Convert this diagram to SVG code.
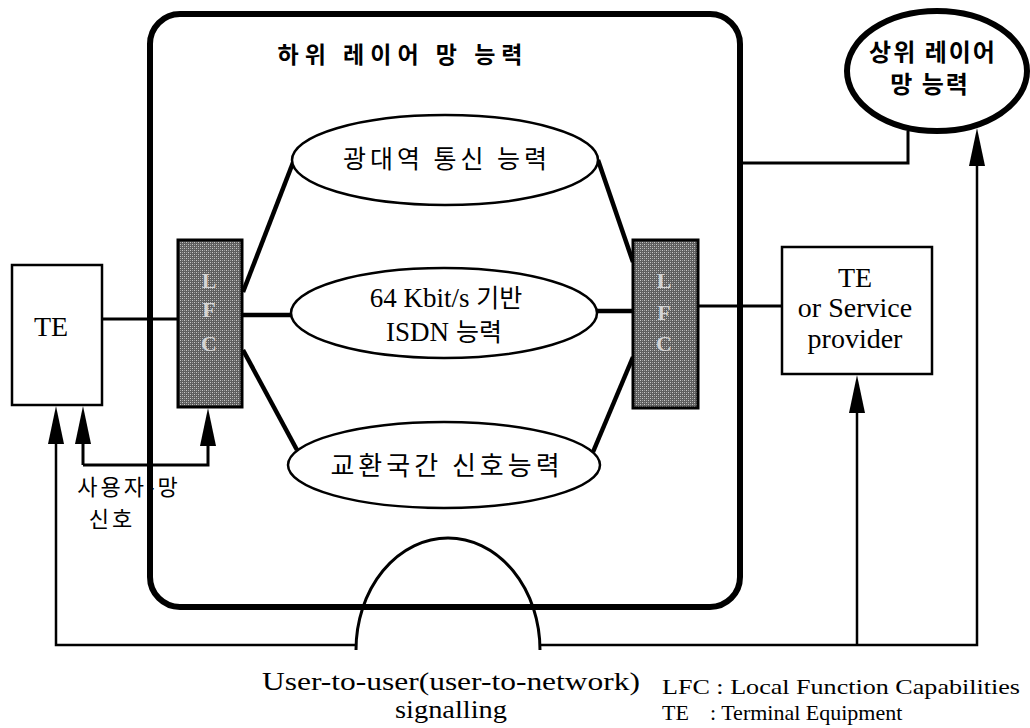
<svg xmlns="http://www.w3.org/2000/svg" width="1030" height="728" viewBox="0 0 1030 728">
<style>
  .serif { font-family: "Liberation Serif", "Times New Roman", serif; fill: #000; }
  .kr { font-family: "Noto Sans CJK KR", sans-serif; fill: #000; }
  .krb { font-family: "Noto Sans CJK KR", sans-serif; font-weight: bold; fill: #000; }
  .box { fill: #fff; stroke: #000; stroke-width: 2.5; }
  .ell { fill: #fff; stroke: #000; stroke-width: 2.5; }
  .lfc { fill: url(#dith); stroke: #000; stroke-width: 3; }
  .lfct { font-family: "Liberation Serif", serif; font-weight: bold; font-size: 22px; fill: #d4d4d4; text-anchor: middle; }
  .thick { fill: none; stroke: #000; stroke-width: 4.5; }
  .mid { fill: none; stroke: #000; stroke-width: 3; }
  .thin { fill: none; stroke: #000; stroke-width: 2.5; }
</style>
<defs>
  <pattern id="dith" width="4" height="4" patternUnits="userSpaceOnUse">
    <rect width="4" height="4" fill="#5e5e5e"/>
    <rect x="0" y="0" width="1" height="1" fill="#c8c8c8"/>
    <rect x="2" y="2" width="1" height="1" fill="#c8c8c8"/>
    <rect x="2" y="0" width="1" height="1" fill="#9a9a9a"/>
    <rect x="0" y="2" width="1" height="1" fill="#9a9a9a"/>
  </pattern>
  <marker id="ah" viewBox="0 0 38 16" refX="28" refY="8" markerWidth="38" markerHeight="16" markerUnits="userSpaceOnUse" orient="auto">
    <path d="M0,0 L38,8 L0,16 z" fill="#000"/>
  </marker>
</defs>
<rect width="1030" height="728" fill="#fff"/>

<g id="user-network-signalling-label">
  <text class="kr" x="129" y="495" font-size="22" text-anchor="middle" letter-spacing="3">사용자-망</text>
  <text class="kr" x="112" y="527" font-size="22" text-anchor="middle" letter-spacing="3">신호</text>
</g>

<g id="lower-layer-box">
  <rect x="150" y="14" width="590" height="593" rx="30" fill="none" stroke="#000" stroke-width="6"/>
  <text class="krb" x="403" y="63" font-size="23" text-anchor="middle" letter-spacing="6">하위 레이어 망 능력</text>
</g>

<g id="connectors">
  <path class="thick" d="M243,292 L294,160"/>
  <path class="thick" d="M243,315 H291"/>
  <path class="thick" d="M243,350 L297,450"/>
  <path class="thick" d="M633,262 L598,160"/>
  <path class="thick" d="M633,311 H597"/>
  <path class="thick" d="M633,357 L593,452"/>
  <path class="mid" d="M102,319 H180"/>
  <path class="mid" d="M698,306 H782"/>
  <path class="mid" d="M740,163 H908 V131"/>
  <path class="mid" d="M83,465 V416" marker-end="url(#ah)"/>
  <path class="mid" d="M83,465 H208 V418" marker-end="url(#ah)"/>
  <path class="thin" d="M356,645 H56 V416" marker-end="url(#ah)"/>
  <path class="thin" d="M540,645 H977 V138" marker-end="url(#ah)"/>
  <path class="thin" d="M857,645 V385" marker-end="url(#ah)"/>
  <path class="mid" d="M356,650 A92,112 0 0 1 540,650"/>
</g>

<g id="te-left">
  <rect class="box" x="12" y="265" width="90" height="140"/>
  <text class="serif" x="51" y="336" font-size="28" text-anchor="middle">TE</text>
</g>

<g id="lfc-left">
  <rect class="lfc" x="178" y="240" width="64" height="167"/>
  <text class="lfct" x="209" y="288">L</text>
  <text class="lfct" x="209" y="317">F</text>
  <text class="lfct" x="209" y="351">C</text>
</g>

<g id="lfc-right">
  <rect class="lfc" x="633" y="240" width="65" height="168"/>
  <text class="lfct" x="664" y="288">L</text>
  <text class="lfct" x="664" y="320">F</text>
  <text class="lfct" x="664" y="351">C</text>
</g>

<g id="broadband">
  <ellipse class="ell" cx="445" cy="160" rx="153" ry="45"/>
  <text class="kr" x="447" y="168" font-size="25" text-anchor="middle" letter-spacing="4">광대역 통신 능력</text>
</g>

<g id="isdn">
  <ellipse class="ell" cx="444" cy="313" rx="153" ry="45"/>
  <text x="446" y="307" font-size="27" text-anchor="middle"><tspan class="serif">64 Kbit/s </tspan><tspan class="kr" font-size="25">기반</tspan></text>
  <text x="444" y="341" font-size="27" text-anchor="middle"><tspan class="serif">ISDN </tspan><tspan class="kr" font-size="25">능력</tspan></text>
</g>

<g id="interexchange">
  <ellipse class="ell" cx="444" cy="465" rx="156" ry="43"/>
  <text class="kr" x="447" y="475" font-size="26" text-anchor="middle" letter-spacing="4">교환국간 신호능력</text>
</g>

<g id="upper-layer">
  <ellipse cx="937" cy="71" rx="90" ry="60" fill="#fff" stroke="#000" stroke-width="6"/>
  <text class="krb" x="933" y="61" font-size="24" text-anchor="middle" letter-spacing="2">상위 레이어</text>
  <text class="krb" x="930" y="93" font-size="24" text-anchor="middle" letter-spacing="2">망 능력</text>
</g>

<g id="te-service-provider">
  <rect class="box" x="782" y="247" width="150" height="127"/>
  <text class="serif" x="855" y="287" font-size="28" text-anchor="middle">TE</text>
  <text class="serif" x="855" y="317" font-size="28" text-anchor="middle">or Service</text>
  <text class="serif" x="855" y="348" font-size="28" text-anchor="middle">provider</text>
</g>

<g id="captions">
  <text class="serif" x="451" y="690" font-size="25" text-anchor="middle" textLength="378" lengthAdjust="spacingAndGlyphs">User-to-user(user-to-network)</text>
  <text class="serif" x="451" y="718" font-size="25" text-anchor="middle" textLength="112" lengthAdjust="spacingAndGlyphs">signalling</text>
  <text class="serif" x="662" y="694" font-size="22" textLength="358" lengthAdjust="spacingAndGlyphs">LFC : Local Function Capabilities</text>
  <text class="serif" font-size="22" y="720"><tspan x="662">TE</tspan><tspan x="710">: Terminal Equipment</tspan></text>
</g>
</svg>
